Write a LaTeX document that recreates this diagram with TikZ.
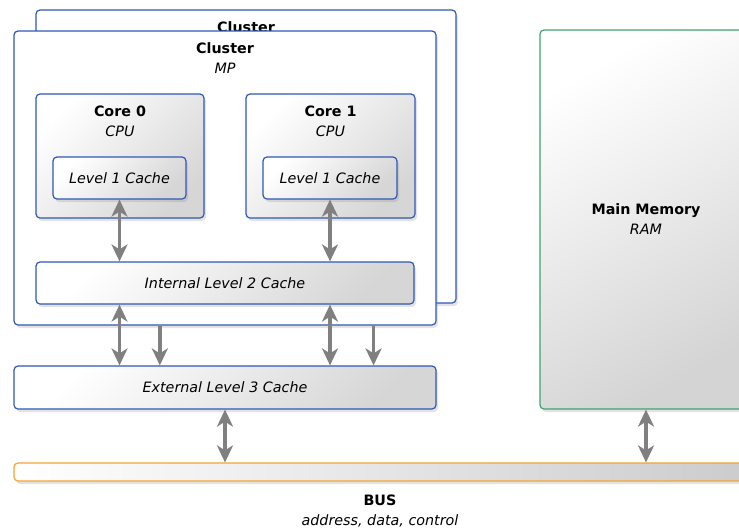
\documentclass[tikz,border=0pt]{standalone}
\usepackage{fontspec}
\setmainfont{DejaVu Sans}
\usepackage{tikz}
\usetikzlibrary{arrows.meta,positioning,calc,shadows}
\definecolor{boxblue}{HTML}{2F58B5}
\definecolor{memgreen}{HTML}{3FA36B}
\definecolor{busorange}{HTML}{F5A431}

\begin{document}
\begin{tikzpicture}[
    x=1pt, y=-1pt,
    font=\fontsize{14.3}{20}\selectfont,
    shadowed/.style={
        drop shadow={shadow xshift=2pt,shadow yshift=-3pt,opacity=0.22}
    },
    cluster/.style={
        draw=boxblue,
        line width=1.2pt,
        rounded corners=4pt,
        fill=white,
        inner sep=0pt,
        shadowed
    },
    unit/.style={
        draw=boxblue,
        line width=1.2pt,
        rounded corners=4pt,
        inner sep=0pt,
        top color=white,
        bottom color=black!16,
        shading angle=45,
        shadowed,
        font=\fontsize{14.3}{20}\selectfont\itshape
    },
    title/.style={inner sep=0pt, align=center},
    arrow/.style={
        -{Stealth[length=17pt,width=16pt,inset=5pt]},
        line width=3.6pt,
        draw=black!50
    },
    twoway/.style={
        arrow,
        {Stealth[length=17pt,width=16pt,inset=5pt]}-{Stealth[length=17pt,width=16pt,inset=5pt]}
    }
]
\useasboundingbox (0,0) rectangle (739,528);
\clip (0,0) rectangle (739,528);

\node[cluster, minimum width=420pt, minimum height=293pt] (clusterB) at (246,156.5) {};
\node[title, below=12pt of clusterB.north] (clusterBname) {\textbf{Cluster}};

\node[cluster, minimum width=422pt, minimum height=294pt] (clusterA) at (225,178) {};
\node[title, below=12pt of clusterA.north] (clusterAname) {\textbf{Cluster}\\\textit{MP}};

\node[unit, minimum width=168pt, minimum height=124pt] (coreA) at (120,156) {};
\node[title, below=12pt of coreA.north] (coreAname) {\textbf{Core 0}\\\textit{CPU}};
\node[unit, minimum width=169pt, minimum height=124pt] (coreB) at (330.5,156) {};
\node[title, below=12pt of coreB.north] (coreBname) {\textbf{Core 1}\\\textit{CPU}};

\node[unit, minimum width=133pt, minimum height=42pt] (l1a) at (119.5,178) {Level 1 Cache};
\node[unit, minimum width=134pt, minimum height=42pt] (l1b) at (330,178) {Level 1 Cache};

\node[unit, minimum width=378pt, minimum height=42pt] (l2) at (225,283) {Internal Level 2 Cache};
\node[unit, minimum width=422pt, minimum height=43pt] (l3) at (225,387.5) {External Level 3 Cache};

\node[unit, draw=memgreen, top color=white, bottom color=black!17, shading angle=30,
      font=\fontsize{14.3}{20}\selectfont, align=center,
      minimum width=212pt, minimum height=379pt] (mem) at (646,219.5)
      {\textbf{Main Memory}\\\textit{RAM}};

\node[unit, draw=busorange, left color=white, right color=black!20,
      minimum width=732pt, minimum height=18pt] (bus) at (380,472) {};
\node[title, below=13pt of bus.south] (busname) {\textbf{BUS}\\\textit{address, data, control}};

\coordinate (dropA) at ($(clusterA.south west)!0.346!(clusterA.south east)$);
\coordinate (dropB) at ($(clusterA.south west)!0.851!(clusterA.south east)$);

\draw[twoway] (l1a.south) -- (l1a.south |- l2.north);
\draw[twoway] (l1b.south) -- (l1b.south |- l2.north);
\draw[twoway] (l1a.south |- l2.south) -- (l1a.south |- l3.north);
\draw[twoway] (l1b.south |- l2.south) -- (l1b.south |- l3.north);
\draw[arrow] (dropA) -- (dropA |- l3.north);
\draw[arrow] (dropB) -- (dropB |- l3.north);
\draw[twoway] (l3.south) -- (l3.south |- bus.north);
\draw[twoway] (mem.south) -- (mem.south |- bus.north);

\end{tikzpicture}
\end{document}
